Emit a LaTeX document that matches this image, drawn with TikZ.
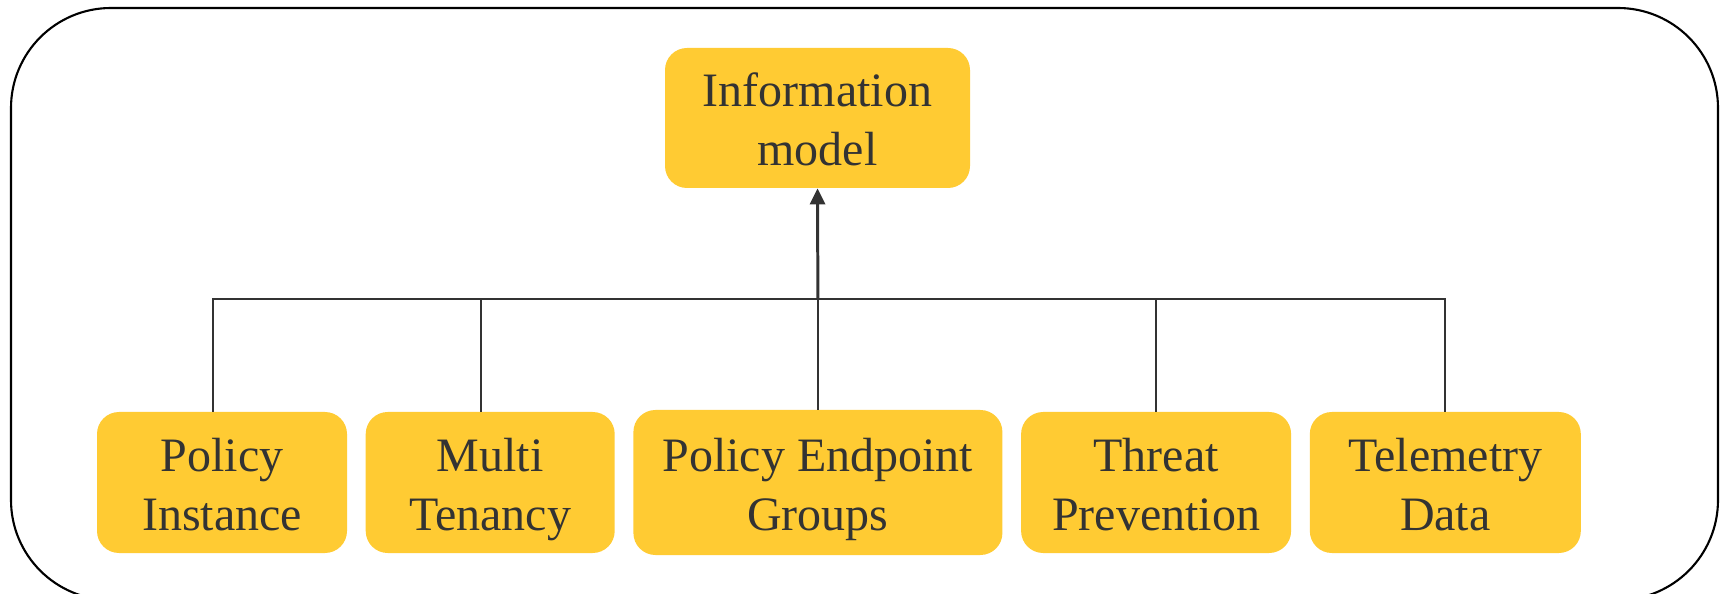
\documentclass[tikz,border=0pt]{standalone}
\usepackage{fontspec}
\setmainfont{Liberation Serif}
\usetikzlibrary{arrows.meta,positioning}

\definecolor{blkfill}{HTML}{FFCB33}
\definecolor{ink}{HTML}{333333}

\begin{document}
\begin{tikzpicture}[>={Triangle[length=0.32cm,width=0.3cm]},node distance=0.36cm,
    blk/.style={fill=blkfill,rounded corners=0.44cm,minimum height=2.82cm,align=center,
      inner sep=2pt,text=ink,font=\fontsize{27.3}{33.5}\selectfont,
      text height=60.4pt,text depth=6pt},
    link/.style={draw=ink,line width=1.1pt}]
  \useasboundingbox (0,0) rectangle (34.46,11.86);
  \clip (0,0) rectangle (34.46,11.86);
  % outer frame, its lower edge runs off the page
  \draw[line width=1.2pt,rounded corners=2cm] (0.22,-0.14) rectangle (34.36,11.7);

  \node[blk,minimum width=6.1cm,minimum height=2.8cm] (info) at (16.35,9.5) {Information\\model};

  \node[blk,minimum width=5cm] (pol) at (4.44,2.21) {Policy\\Instance};
  \node[blk,minimum width=4.98cm,right=of pol] (multi) {Multi\\Tenancy};
  \node[blk,minimum width=7.38cm,minimum height=2.9cm,right=of multi] (peg) {Policy Endpoint\\Groups};
  \node[blk,minimum width=5.4cm,right=of peg] (threat) {Threat\\Prevention};
  \node[blk,minimum width=5.42cm,right=of threat] (tele) {Telemetry\\Data};

  \coordinate (hub) at (peg.north |- 0,5.88);
  \foreach \n in {pol,multi}
    \draw[link] ([xshift=-0.18cm]\n.north) |- (hub);
  \foreach \n in {threat,tele}
    \draw[link] (\n.north) |- (hub);
  \draw[link] (peg.north) -- (hub);
  \draw[link,line width=1.7pt,->] (hub) -- (info.south);
\end{tikzpicture}
\end{document}
